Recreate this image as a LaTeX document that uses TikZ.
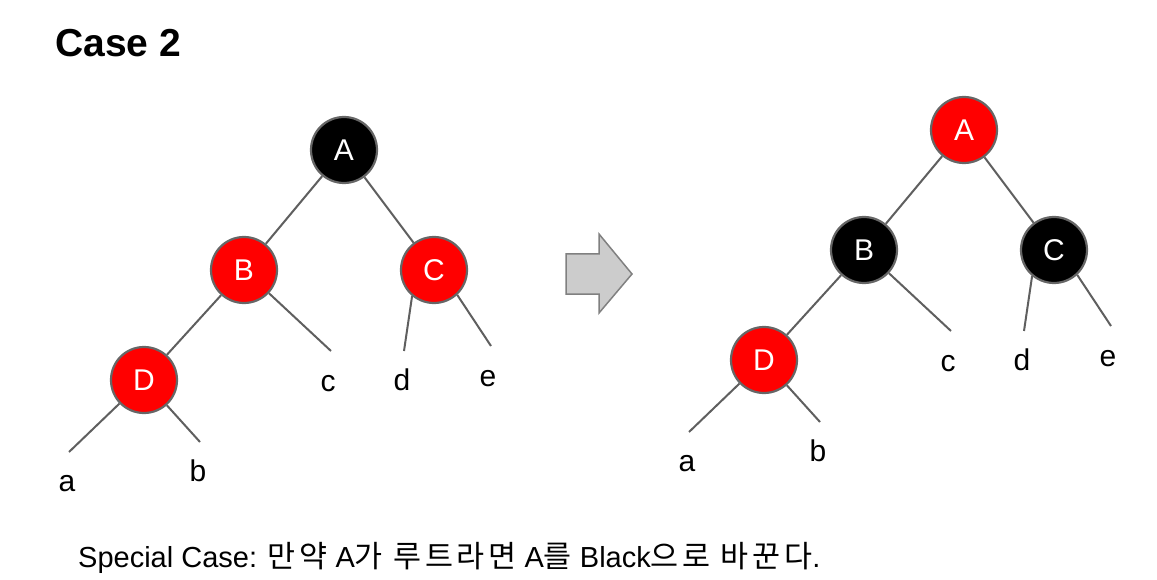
\documentclass[tikz,border=0pt]{standalone}
\usepackage{fontspec}
\setmainfont{Liberation Sans}
\newfontfamily\kr[Scale=1.05, LetterSpace=12]{Noto Sans CJK KR}
\usepackage{xcolor}
\usepackage{tikz}
\usetikzlibrary{calc}
\definecolor{rbred}{HTML}{FF0000}
\definecolor{rbblack}{HTML}{000000}
\definecolor{rim}{HTML}{666666}
\definecolor{edgegray}{HTML}{5F5F5F}
\definecolor{arrowfill}{HTML}{CCCCCC}
\definecolor{arrowline}{HTML}{808080}
\tikzset{
  rbnode/.style={circle, draw=rim, line width=2.2pt, minimum size=66pt, inner sep=0pt,
    text=white, font=\fontsize{30}{30}\selectfont},
  rednode/.style={rbnode, fill=rbred},
  blacknode/.style={rbnode, fill=rbblack},
  link/.style={draw=edgegray, line width=2pt},
  leaf/.style={anchor=base, inner sep=0pt, font=\fontsize{30}{30}\selectfont}
}

\begin{document}
\begin{tikzpicture}[x=1pt, y=-1pt]
  \useasboundingbox (0,0) rectangle (1157,580);

  \node[anchor=base west, inner sep=0pt, font=\fontsize{39}{39}\selectfont\bfseries] (title) at (55,57) {Case 2};

  % before
  \node[blacknode] (lA) at (344,150) {A};
  \node[rednode] (lB) at (244,270) {B};
  \node[rednode] (lC) at (434,270) {C};
  \node[rednode] (lD) at (144,380) {D};
  \coordinate (la) at (69,452);
  \coordinate (lb) at (200,442);
  \coordinate (lc) at (331,351);
  \coordinate (ld) at (404,351);
  \coordinate (le) at (491,346);
  \draw[link] (lA) -- (lB);
  \draw[link] (lA) -- (lC);
  \draw[link] (lB) -- (lD);
  \draw[link] (lB) -- (lc);
  \draw[link] (lC.230) -- (ld);
  \draw[link] (lC.-47) -- (le);
  \draw[link] (lD) -- (la);
  \draw[link] (lD) -- (lb);
  \node[leaf] (lblA) at (67,491) {a};
  \node[leaf] (lblB) at (198,481) {b};
  \node[leaf] (lblC) at (328,391) {c};
  \node[leaf] (lblD) at (402,390) {d};
  \node[leaf] (lblE) at (488,386) {e};

  % arrow
  \draw[fill=arrowfill, draw=arrowline, line width=1.5pt]
    (566,254) -- (599,254) -- (599,234) -- (632,274) -- (599,313) -- (599,294) -- (566,294) -- cycle;

  % after
  \begin{scope}[shift={(620,-20)}]
    \node[rednode] (rA) at (344,150) {A};
    \node[blacknode] (rB) at (244,270) {B};
    \node[blacknode] (rC) at (434,270) {C};
    \node[rednode] (rD) at (144,380) {D};
    \coordinate (ra) at (69,452);
    \coordinate (rb) at (200,442);
    \coordinate (rc) at (331,351);
    \coordinate (rd) at (404,351);
    \coordinate (re) at (491,346);
    \draw[link] (rA) -- (rB);
    \draw[link] (rA) -- (rC);
    \draw[link] (rB) -- (rD);
    \draw[link] (rB) -- (rc);
    \draw[link] (rC.230) -- (rd);
    \draw[link] (rC.-47) -- (re);
    \draw[link] (rD) -- (ra);
    \draw[link] (rD) -- (rb);
    \node[leaf] (rblA) at (67,491) {a};
    \node[leaf] (rblB) at (198,481) {b};
    \node[leaf] (rblC) at (328,391) {c};
    \node[leaf] (rblD) at (402,390) {d};
    \node[leaf] (rblE) at (488,386) {e};
  \end{scope}

  \node[anchor=base west, inner sep=0pt, font=\fontsize{29}{29}\selectfont] (note) at (78,567)
    {Special Case: {\kr 만약} A{\kr 가 루트라면} A{\kr 를} Black{\kr 으로 바꾼다}.};
\end{tikzpicture}
\end{document}
